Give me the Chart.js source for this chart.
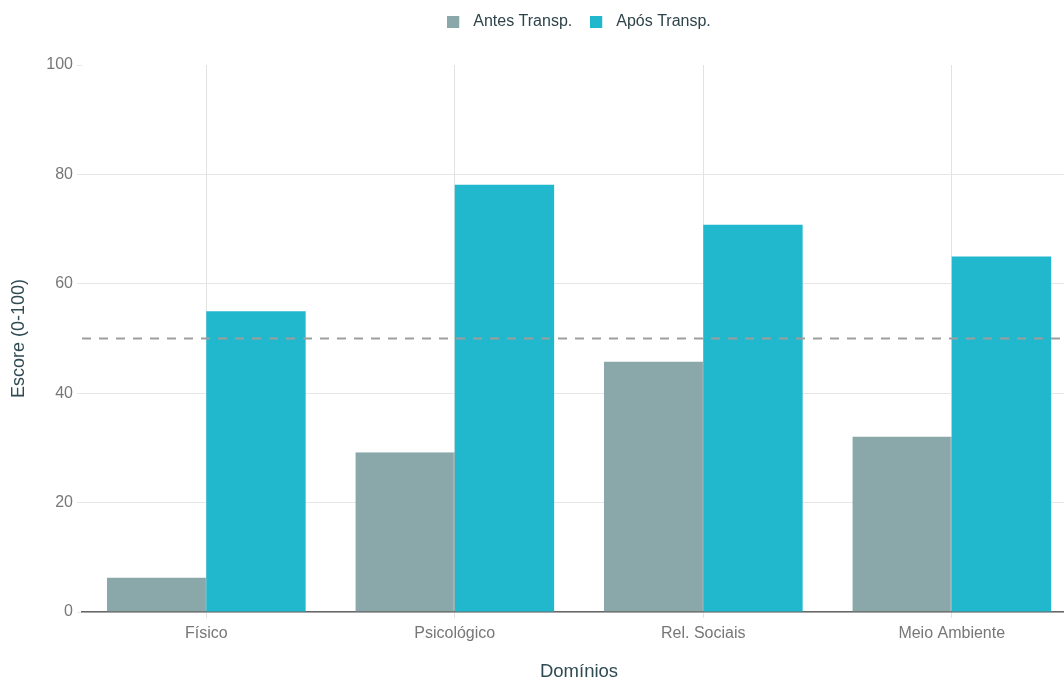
<!DOCTYPE html>
<html>
<head>
<meta charset="utf-8">
<script src="https://cdn.jsdelivr.net/npm/chart.js@4.4.1/dist/chart.umd.min.js"></script>
<style>
    html, body { margin: 0; padding: 0; background: #fff; overflow: hidden; }
    #wrap { width: 1090px; height: 680px; position: relative; }
</style>
</head>
<body>
<div id="wrap"><canvas id="scoreChart"></canvas></div>
<script>
// dados
const categories  = ['Físico', 'Psicológico', 'Rel. Sociais', 'Meio Ambiente'];
const seriesNames = ['Antes Transp.', 'Após Transp.'];
const seriesColors = ['#8aa7aa', '#21b8cd'];
const antesValues = [6.3, 29.2, 45.8, 32.1];
const aposValues  = [55.0, 78.1, 70.8, 65.0];
const yTicks      = [0, 20, 40, 60, 80, 100];
const refLine     = 50;

const FONT = '"Liberation Sans", Arial, sans-serif';

// quadradinho da legenda, com folga à direita antes do texto
function legendSwatch(color) {
    const c = document.createElement('canvas');
    c.width = 18;
    c.height = 12;
    const g = c.getContext('2d');
    g.fillStyle = color;
    g.fillRect(0, 0, 12, 12);
    return c;
}
const swatches = seriesColors.map(legendSwatch);

// linha tracejada de referência
const refLinePlugin = {
    id: 'refLine',
    afterDatasetsDraw(chart) {
        const { ctx, chartArea, scales } = chart;
        const y = scales.y.getPixelForValue(refLine);
        ctx.save();
        ctx.strokeStyle = '#9e9e9e';
        ctx.lineWidth = 2;
        ctx.setLineDash([9, 8]);
        ctx.beginPath();
        ctx.moveTo(chartArea.left, y);
        ctx.lineTo(chartArea.right, y);
        ctx.stroke();
        ctx.restore();
    }
};

// espaço extra abaixo da legenda
const legendGap = {
    id: 'legendGap',
    beforeInit(chart) {
        const fit = chart.legend.fit;
        chart.legend.fit = function () {
            fit.bind(chart.legend)();
            this.height += 25;
        };
    }
};

const ctx = document.getElementById('scoreChart').getContext('2d');

new Chart(ctx, {
    type: 'bar',
    data: {
        labels: categories,
        datasets: [
            {
                label: seriesNames[0],
                data: antesValues,
                backgroundColor: seriesColors[0],
                borderColor: '#7d9598',
                borderWidth: { right: 1 },
                borderSkipped: false,
                pointStyle: swatches[0],
                categoryPercentage: 0.8,
                barPercentage: 1.0
            },
            {
                label: seriesNames[1],
                data: aposValues,
                backgroundColor: seriesColors[1],
                borderWidth: 0,
                pointStyle: swatches[1],
                categoryPercentage: 0.8,
                barPercentage: 1.0
            }
        ]
    },
    options: {
        responsive: true,
        maintainAspectRatio: false,
        animation: false,
        layout: {
            padding: { left: 8, right: 14, top: -4, bottom: 0 }
        },
        plugins: {
            legend: {
                position: 'top',
                fullSize: false,
                labels: {
                    usePointStyle: true,
                    pointStyleWidth: 18,
                    boxHeight: 12,
                    padding: 18,
                    color: '#2e434a',
                    font: { family: FONT, size: 16 }
                }
            },
            tooltip: { enabled: false }
        },
        scales: {
            x: {
                grid: {
                    offset: false,
                    color: '#e2e2e2',
                    tickColor: '#e2e2e2',
                    tickLength: 6
                },
                border: { color: '#666', width: 1.5 },
                ticks: {
                    color: '#777',
                    padding: 6,
                    font: { family: FONT, size: 16 }
                },
                title: {
                    display: true,
                    text: 'Domínios',
                    color: '#2f4a52',
                    padding: { top: 14, bottom: -3 },
                    font: { family: FONT, size: 18.5 }
                },
                afterFit(scale) { scale.height = 68; }
            },
            y: {
                min: 0,
                max: 100,
                afterBuildTicks(scale) {
                    scale.ticks = yTicks.map(v => ({ value: v }));
                },
                grid: {
                    color: ctx => (ctx.tick && ctx.tick.value === 100 ? 'rgba(0,0,0,0)' : '#e6e6e6'),
                    tickColor: '#e6e6e6',
                    tickLength: 5
                },
                border: { display: false },
                ticks: {
                    color: '#777',
                    padding: 4,
                    font: { family: FONT, size: 16 }
                },
                title: {
                    display: true,
                    text: 'Escore (0-100)',
                    color: '#2f4a52',
                    padding: { top: 0, bottom: 5 },
                    font: { family: FONT, size: 18 }
                },
                afterFit(scale) { scale.width = 74; }
            }
        }
    },
    plugins: [refLinePlugin, legendGap]
});
</script>
</body>
</html>
